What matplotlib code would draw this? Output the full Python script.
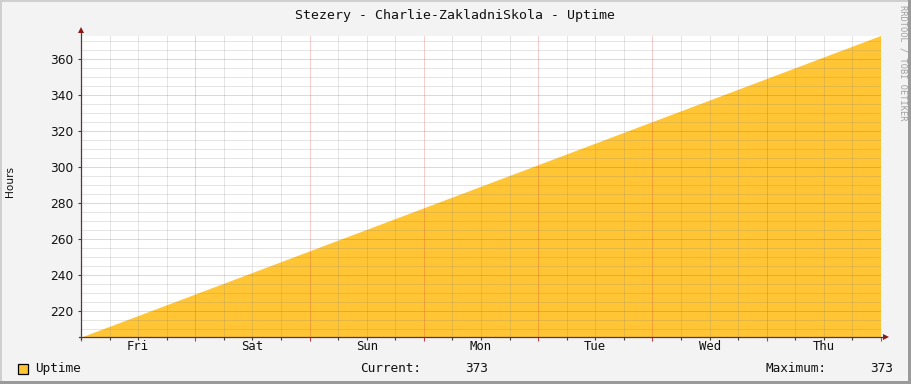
import matplotlib

matplotlib.use("Agg")
import matplotlib.pyplot as plt
from matplotlib.patches import Rectangle
from matplotlib.transforms import blended_transform_factory

# data: uptime in hours, sampled at each day boundary (hours since start of window)
HOURS = [0, 24, 48, 72, 96, 120, 144, 168]
UPTIME = [205, 229, 253, 277, 301, 325, 349, 373]
DAY_LABELS = ["Fri", "Sat", "Sun", "Mon", "Tue", "Wed", "Thu"]
CURRENT = 373
MAXIMUM = 373

TITLE = "Stezery - Charlie-ZakladniSkola - Uptime"

BG = "#F3F3F3"
FILL = "#FFC535"
AXIS = "#4A3A3A"
ARROW = "#8B1A1A"
MONO = "DejaVu Sans Mono"
SANS = "DejaVu Sans"

W, H = 911, 384
fig = plt.figure(figsize=(W / 100, H / 100), dpi=100, facecolor=BG)

# 3d-ish frame round the canvas
fig.patches.append(Rectangle((0, 1 - 2 / H), 1, 2 / H, transform=fig.transFigure,
                             color="#CFCFCF", lw=0))
fig.patches.append(Rectangle((0, 0), 2 / W, 1, transform=fig.transFigure,
                             color="#CFCFCF", lw=0))
fig.patches.append(Rectangle((0, 0), 1, 3 / H, transform=fig.transFigure,
                             color="#9A9A9A", lw=0))
fig.patches.append(Rectangle((1 - 3 / W, 0), 3 / W, 1, transform=fig.transFigure,
                             color="#9A9A9A", lw=0))

ax = fig.add_axes([81 / W, (H - 337) / H, 800 / W, 301 / H])
ax.set_facecolor("white")

ax.fill_between(HOURS, 0, UPTIME, color=FILL, lw=0, zorder=1)

ax.set_xlim(0, 168)
ax.set_ylim(205.4, 373)

ax.set_xticks(range(0, 169, 24))
ax.set_xticks(range(0, 169, 6), minor=True)
ax.set_yticks(range(220, 361, 20))
ax.set_yticks(range(210, 373, 5), minor=True)
ax.set_xticklabels([])

# rrdtool-style dotted grid drawn over the area
dot = (0, (1, 1))
ax.grid(True, which="minor", color="#7A7A7A", alpha=0.38, lw=0.72, ls=dot)
ax.grid(True, which="major", color="#E03030", alpha=0.48, lw=0.72, ls=dot)
ax.set_axisbelow(False)
for axis in (ax.xaxis, ax.yaxis):
    for tick in axis.get_major_ticks() + axis.get_minor_ticks():
        tick.gridline.set_zorder(2)

for s in ax.spines.values():
    s.set_visible(False)

ax.tick_params(axis="x", which="major", length=3, width=0.8, color="#C04040", labelbottom=False)
ax.tick_params(axis="x", which="minor", length=2, width=0.8, color=AXIS)
ax.tick_params(axis="y", which="major", length=2.5, width=0.8, color=AXIS,
               labelsize=8.8, labelcolor="#111111", pad=3)
ax.tick_params(axis="y", which="minor", length=0)
for lab in ax.get_yticklabels():
    lab.set_fontfamily(SANS)

# axis lines with arrow heads
ax.plot([0, 0], [-0.008, 1.02], transform=ax.transAxes, color=AXIS, lw=0.9,
        clip_on=False, zorder=5)
ax.plot([-0.003, 1.004], [0, 0], transform=ax.transAxes, color=AXIS, lw=0.9,
        clip_on=False, zorder=5)
ax.plot([0], [1.02], marker="^", ms=4.5, color=ARROW, transform=ax.transAxes,
        clip_on=False, zorder=6, mew=0)
ax.plot([1.006], [0], marker=">", ms=4.5, color=ARROW, transform=ax.transAxes,
        clip_on=False, zorder=6, mew=0)

# day labels centred on noon
tr = blended_transform_factory(ax.transData, ax.transAxes)
for i, lab in enumerate(DAY_LABELS):
    ax.text(12 + 24 * i, -0.032, lab, transform=tr, ha="center", va="center",
            fontsize=8.8, family=MONO, color="#111111")

fig.text(455 / W, 1 - 15 / H, TITLE, ha="center", va="center",
         fontsize=9.5, family=MONO, color="#111111")
fig.text(10 / W, 1 - 181 / H, "Hours", rotation=90, ha="center", va="center",
         fontsize=7.6, family=SANS, color="#111111")
fig.text(903 / W, 1 - 5 / H, "RRDTOOL / TOBI OETIKER", rotation=-90,
         ha="center", va="top", fontsize=6.2, family=MONO, color="#A0A0A0")

# legend row
fig.patches.append(Rectangle((17.5 / W, 1 - 373.5 / H), 10 / W, 10 / H,
                             transform=fig.transFigure, facecolor=FILL,
                             edgecolor="black", lw=0.9))
ly = 1 - 368.5 / H
fig.text(35 / W, ly, "Uptime", ha="left", va="center", fontsize=9.2,
         family=MONO, color="#111111")
fig.text(360 / W, ly, "Current:", ha="left", va="center", fontsize=9.2,
         family=MONO, color="#111111")
fig.text(488 / W, ly, f"{CURRENT}", ha="right", va="center", fontsize=9.2,
         family=MONO, color="#111111")
fig.text(766 / W, ly, "Maximum:", ha="left", va="center", fontsize=9.2,
         family=MONO, color="#111111")
fig.text(893 / W, ly, f"{MAXIMUM}", ha="right", va="center", fontsize=9.2,
         family=MONO, color="#111111")

fig.savefig("out.png", dpi=100, facecolor=BG)
